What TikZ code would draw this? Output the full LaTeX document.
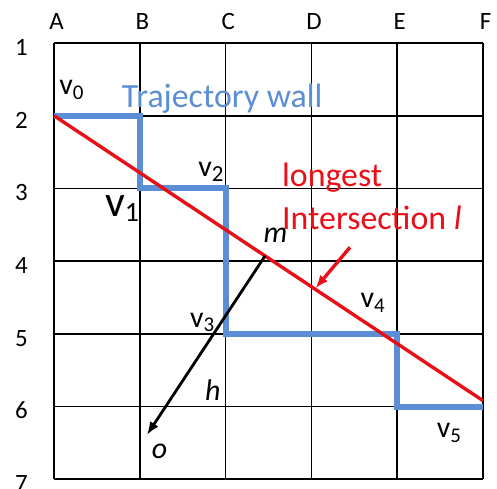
\documentclass[tikz,border=0pt]{standalone}
\usepackage{fontspec}
\setmainfont{Carlito}
\usepackage{tikz}
\usetikzlibrary{arrows.meta}
\definecolor{wandblau}{RGB}{91,142,212}
\definecolor{schnittrot}{RGB}{232,16,24}
% v mit tiefgestelltem Index
\newcommand{\vlab}[3]{{\fontsize{#2}{#2}\selectfont v}\raisebox{-0.3ex}{\fontsize{#3}{#3}\selectfont #1}}

\begin{document}
\begin{tikzpicture}[x=85.8bp, y=-72.7bp,
					>={Latex[length=13bp,width=10bp]},   %Pfeilspitzen
					raster/.style={line width=1.7bp},
					wand/.style={wandblau, line width=6bp},
					schnitt/.style={schnittrot, line width=3.4bp},
					achse/.style={anchor=base, inner sep=0pt, font=\fontsize{25}{25}\selectfont},
					ecke/.style={anchor=base west, inner sep=0pt, font=\fontsize{31}{31}\selectfont},
					var/.style={anchor=base west, inner sep=0pt, font=\fontsize{30}{30}\selectfont\itshape}]
					\useasboundingbox (-0.629,-0.591) rectangle (5.163,6.121);
					%Raster zeichnen
					\foreach \x in {0,...,5} \draw[raster] (\x,0) -- (\x,6);
					\foreach \y in {0,...,6} \draw[raster] (0,\y) -- (5,\y);
					% Spalten und Zeilen beschriften
					\foreach \c [count=\i from 0] in {A,B,C,D,E,F} \node[achse] (s\c) at (\i+0.03,-0.18) {\c};
					\foreach \r in {1,...,7} \node[achse] (z\r) at (-0.38,\r-0.83) {\r};
					% Eckpunkte der Wand
					\coordinate (v0) at (0,1);
					\coordinate (v1) at (1,2);
					\coordinate (v2) at (2,2);
					\coordinate (v3) at (2,4);
					\coordinate (v4) at (4,4);
					\coordinate (v5) at (5,5);
					\draw[wand] (v0) -| (v1) -- (v2) -- (v3) -- (v4) |- (v5);
					% Schnittgerade
					\draw[schnitt] (v0) -- (5,4.92) coordinate (rend);
					\path (v0) -- (rend) coordinate[pos=0.492] (m) coordinate[pos=0.608] (treffer);
					% Pfeile
					\coordinate (ospitze) at (1.084,5.39);
					\draw[->, line width=2.8bp] (m) -- (ospitze);
					\coordinate (rstart) at (3.45,2.81);
					\draw[->, schnitt, shorten >=1bp] (rstart) -- (treffer);
					%Beschriftung
					\node[ecke] (lv0) at (0.06,0.715) {\vlab{0}{30}{21}};
					\node[ecke] (lv1) at (0.594,2.39) {\vlab{1}{44}{28}};
					\node[ecke] (lv2) at (1.68,1.84) {\vlab{2}{30}{23}};
					\node[ecke] (lv3) at (1.585,3.91) {\vlab{3}{30}{21}};
					\node[ecke] (lv4) at (3.57,3.645) {\vlab{4}{30}{21}};
					\node[ecke] (lv5) at (4.46,5.43) {\vlab{5}{30}{21}};
					\node[ecke, wandblau, font=\fontsize{34}{34}\selectfont] (lwand) at (0.79,0.894) {Trajectory wall};
					\node[ecke, schnittrot, font=\fontsize{34}{34}\selectfont] (llong) at (2.657,1.98) {longest};
					\node[ecke, schnittrot, font=\fontsize{34}{34}\selectfont] (linter) at (2.657,2.57) {Intersection \textit{l}};
					\node[var] (lm) at (2.44,2.75) {m};
					\node[var] (lh) at (1.76,4.92) {h};
					\node[var] (lo) at (1.14,5.71) {o};
				\end{tikzpicture}
\end{document}
